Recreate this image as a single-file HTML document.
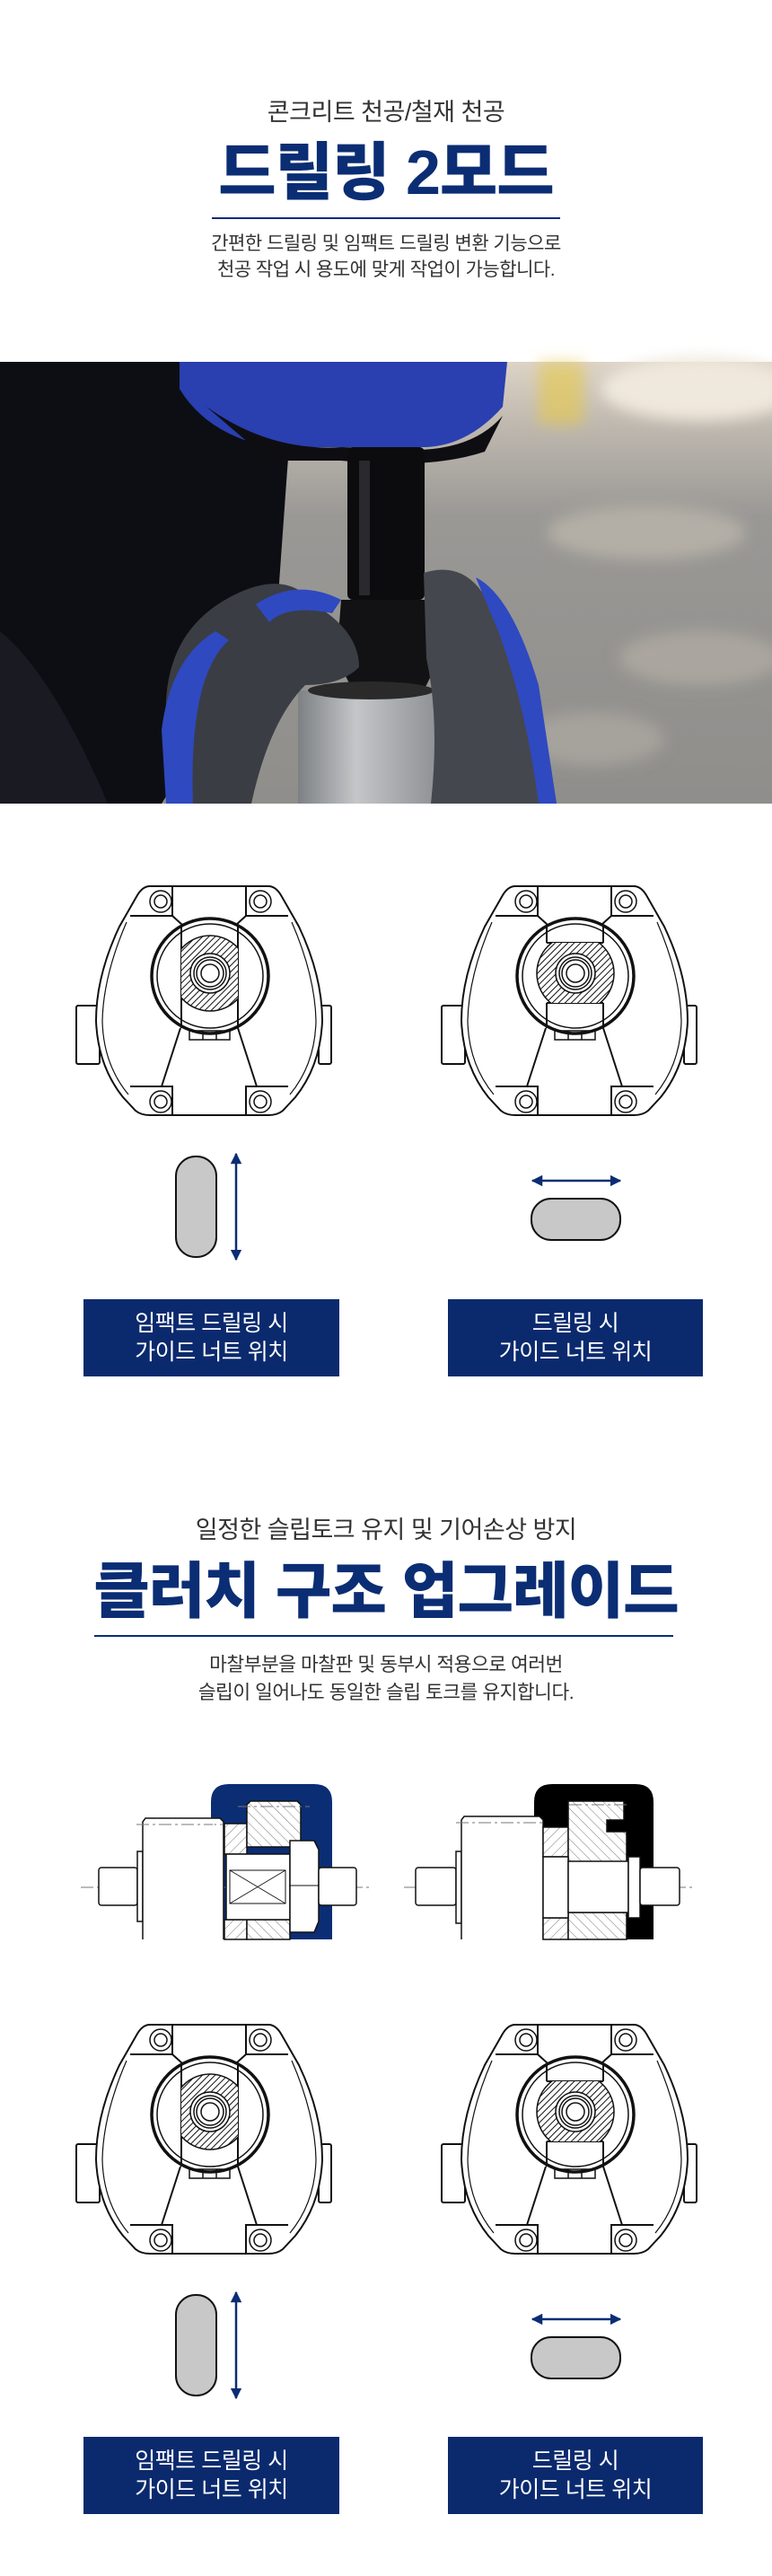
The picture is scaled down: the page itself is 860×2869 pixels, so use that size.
<!DOCTYPE html>
<html><head><meta charset="utf-8">
<style>
*{margin:0;padding:0;box-sizing:border-box}
body{width:860px;height:2869px;background:#fff;position:relative;overflow:hidden;font-family:"Liberation Sans","Noto Sans CJK KR",sans-serif}
.t{position:absolute;left:0;width:860px;text-align:center;white-space:nowrap}
.sub{font-size:27px;color:#333;letter-spacing:-0.5px}
.big{font-weight:900;color:#0b2d74;letter-spacing:-1px}
.desc{font-size:21px;color:#333;line-height:29px;letter-spacing:-0.5px}
.line{position:absolute;height:2px;background:#0b2d74}
.lbl{position:absolute;background:#0b2a6e;color:#fff;font-size:25px;line-height:32px;text-align:center;display:flex;align-items:center;justify-content:center;letter-spacing:-0.5px}
svg{position:absolute;overflow:visible}
</style></head><body>

<div class="t sub" style="top:103px">콘크리트 천공/철재 천공</div>
<div class="t big" style="top:152px;font-size:70px;line-height:80px">드릴링 2모드</div>
<div class="line" style="left:236px;width:388px;top:242px"></div>
<div class="t desc" style="top:257px">간편한 드릴링 및 임팩트 드릴링 변환 기능으로<br>천공 작업 시 용도에 맞게 작업이 가능합니다.</div>

<!-- photo -->
<svg style="left:0;top:403px" width="860" height="492" viewBox="0 0 860 492">
<defs>
<filter id="bl"><feGaussianBlur stdDeviation="8"/></filter>
<linearGradient id="bg" x1="0" y1="0" x2="0" y2="1"><stop offset="0" stop-color="#ddd3c6"/><stop offset="0.15" stop-color="#bdb7ae"/><stop offset="0.35" stop-color="#9a9895"/><stop offset="1" stop-color="#8f8e8b"/></linearGradient>
<linearGradient id="cyl" x1="0" y1="0" x2="1" y2="0"><stop offset="0" stop-color="#7d8184"/><stop offset="0.4" stop-color="#c4c6c8"/><stop offset="1" stop-color="#8a8d90"/></linearGradient>
</defs>
<rect width="860" height="492" fill="url(#bg)"/>
<g filter="url(#bl)">
<ellipse cx="720" cy="190" rx="110" ry="30" fill="#b4afa6"/>
<ellipse cx="780" cy="330" rx="90" ry="30" fill="#aaa69f"/>
<ellipse cx="660" cy="420" rx="80" ry="30" fill="#a6a29c"/>
<ellipse cx="780" cy="30" rx="110" ry="35" fill="#efe8dc"/>
<rect x="600" y="0" width="50" height="70" fill="#e6c94a" opacity="0.6"/>
</g>
<path d="M0 0 H330 L320 120 L310 260 L250 380 L180 492 H0 Z" fill="#0d0e14"/>
<path d="M0 300 Q60 350 120 492 H0 Z" fill="#1a1b22"/>
<path d="M200 0 H565 L560 50 Q520 95 470 95 L300 95 Q230 80 200 30 Z" fill="#2a3fb0"/>
<path d="M230 50 Q300 100 380 95 L470 98 Q530 95 560 60 L540 100 Q480 120 380 110 L300 110 Z" fill="#0e0e12"/>
<rect x="387" y="95" width="86" height="170" rx="6" fill="#0c0c0e"/>
<rect x="400" y="110" width="12" height="150" fill="#2a2a2e"/>
<path d="M380 265 H480 L490 330 L470 370 H395 L375 330 Z" fill="#121214"/>
<rect x="332" y="366" width="162" height="126" fill="url(#cyl)"/>
<ellipse cx="413" cy="366" rx="70" ry="10" fill="#2a2a2a"/>
<path d="M185 400 Q180 300 260 260 Q320 230 350 270 Q400 300 400 340 Q380 360 340 360 Q300 400 280 492 H190 Z" fill="#3b3d44"/>
<path d="M180 410 Q190 330 240 300 L255 310 Q210 350 215 492 H185 Z" fill="#2f49c0"/>
<path d="M285 270 Q330 240 380 265 L370 280 Q320 270 300 290 Z" fill="#2f49c0"/>
<path d="M472 235 Q520 220 545 270 Q580 350 610 430 L620 492 H480 Q490 400 475 330 Z" fill="#45474e"/>
<path d="M530 240 Q570 260 600 360 L620 492 H600 Q585 380 555 300 Z" fill="#2f49c0"/>
</svg>

<svg width="0" height="0" style="position:absolute">
<defs>
<pattern id="hatch" width="5" height="5" patternUnits="userSpaceOnUse" patternTransform="rotate(45)"><rect width="5" height="5" fill="#fff"/><line x1="0" y1="0" x2="0" y2="5" stroke="#111" stroke-width="2"/></pattern>
<pattern id="hatch2" width="8" height="8" patternUnits="userSpaceOnUse" patternTransform="rotate(45)"><rect width="8" height="8" fill="#fff"/><line x1="0" y1="0" x2="0" y2="8" stroke="#555" stroke-width="0.8"/></pattern>
<pattern id="hatch3" width="8" height="8" patternUnits="userSpaceOnUse" patternTransform="rotate(-45)"><rect width="8" height="8" fill="#fff"/><line x1="0" y1="0" x2="0" y2="8" stroke="#555" stroke-width="0.8"/></pattern>
<clipPath id="slotV"><rect x="119" y="40" width="63" height="120"/></clipPath>
<clipPath id="slotH"><rect x="90" y="63" width="122" height="67"/></clipPath>
<g id="body" fill="none" stroke="#111" stroke-width="2">
<rect x="2" y="133" width="26" height="65" rx="2" fill="#fff"/>
<rect x="272" y="133" width="14" height="65" rx="2" fill="#fff"/>
<path d="M84,0 L216,0 Q224,0 230,10 L250,45 Q276,100 276,150 Q274,200 246,235 L232,250 Q226,255 216,255 L84,255 Q74,255 68,250 L54,235 Q26,200 24,150 Q24,100 50,45 L70,10 Q76,0 84,0 Z" fill="#fff"/>
<path d="M58,40 Q32,100 31,150 Q32,198 60,232" stroke-width="1.2"/>
<path d="M242,40 Q268,100 269,150 Q268,198 240,232" stroke-width="1.2"/>
<path d="M62,33 H109 V0 M238,33 H191 V0 M62,223 H109 V255 M238,223 H191 V255"/>
<line x1="109" y1="33" x2="120" y2="43"/><line x1="191" y1="33" x2="180" y2="43"/>
<line x1="118" y1="158" x2="97" y2="223"/><line x1="182" y1="158" x2="203" y2="223"/>
<g stroke-width="1.5"><circle cx="96" cy="17" r="12"/><circle cx="96" cy="17" r="7"/><circle cx="207" cy="17" r="12"/><circle cx="207" cy="17" r="7"/><circle cx="96" cy="240" r="12"/><circle cx="96" cy="240" r="7"/><circle cx="207" cy="240" r="12"/><circle cx="207" cy="240" r="7"/></g>
<ellipse cx="151" cy="100" rx="65" ry="64" stroke-width="3.5"/>
<ellipse cx="151" cy="100" rx="59" ry="58" stroke-width="1.5"/>
<rect x="128" y="161" width="45" height="10" stroke-width="1.5"/>
<line x1="143" y1="161" x2="143" y2="171" stroke-width="1.5"/><line x1="158" y1="161" x2="158" y2="171" stroke-width="1.5"/>
</g>
<g id="core" fill="none" stroke="#111" stroke-width="1.5">
<circle cx="151" cy="97" r="22" fill="#fff"/><circle cx="151" cy="97" r="18"/><circle cx="151" cy="97" r="15"/><circle cx="151" cy="97" r="10"/>
</g>
<g id="devV">
<use href="#body"/>
<line x1="119" y1="44" x2="119" y2="158" stroke="#111" stroke-width="2"/><line x1="182" y1="44" x2="182" y2="158" stroke="#111" stroke-width="2"/>
<circle cx="151" cy="97" r="42" fill="url(#hatch)" stroke="#111" stroke-width="1.5" clip-path="url(#slotV)"/>
<use href="#core"/>
</g>
<g id="devH">
<use href="#body"/>
<line x1="119" y1="44" x2="119" y2="63" stroke="#111" stroke-width="2"/><line x1="182" y1="44" x2="182" y2="63" stroke="#111" stroke-width="2"/>
<line x1="119" y1="130" x2="119" y2="158" stroke="#111" stroke-width="2"/><line x1="182" y1="130" x2="182" y2="158" stroke="#111" stroke-width="2"/>
<line x1="119" y1="63" x2="182" y2="63" stroke="#111" stroke-width="2"/><line x1="119" y1="130" x2="182" y2="130" stroke="#111" stroke-width="2"/>
<circle cx="151" cy="97" r="43" fill="url(#hatch)" stroke="#111" stroke-width="1.5" clip-path="url(#slotH)"/>
<use href="#core"/>
</g>
<marker id="ah" viewBox="0 0 10 10" refX="9" refY="5" markerWidth="5" markerHeight="5" orient="auto-start-reverse"><path d="M0,0 L10,5 L0,10 Z" fill="#0b2d74"/></marker>
<g id="modes">
<use href="#devV" x="83" y="987"/>
<use href="#devH" x="490" y="987"/>
<rect x="196" y="1288" width="45" height="112" rx="22" fill="#c8c8c8" stroke="#111" stroke-width="2"/>
<line x1="263" y1="1285" x2="263" y2="1403" stroke="#0b2d74" stroke-width="2.5" marker-start="url(#ah)" marker-end="url(#ah)"/>
<rect x="592" y="1335" width="99" height="46" rx="22" fill="#c8c8c8" stroke="#111" stroke-width="2"/>
<line x1="593" y1="1315" x2="691" y2="1315" stroke="#0b2d74" stroke-width="2.5" marker-start="url(#ah)" marker-end="url(#ah)"/>
</g>
</defs>
</svg>

<svg style="left:0;top:0" width="860" height="2869" viewBox="0 0 860 2869">
<use href="#modes"/>
<use href="#modes" y="1268"/>

<!-- clutch left -->
<g stroke="#111" stroke-width="1.5">
<path d="M235,2160 V2007 Q235,1987 255,1987 H350 Q370,1987 370,2007 V2160 Z" fill="#0b2d74" stroke="none"/>
<line x1="90" y1="2102" x2="412" y2="2102" stroke="#777" stroke-width="1" stroke-dasharray="14 4 3 4"/>
<rect x="110" y="2080" width="43" height="42" rx="3" fill="#fff"/>
<rect x="153" y="2062" width="6" height="78" fill="#fff"/>
<path d="M159,2160 V2029 L162,2025 H245 L249,2029 V2160" fill="#fff"/>
<line x1="152" y1="2032" x2="249" y2="2032" stroke="#777" stroke-width="1" stroke-dasharray="14 4 3 4"/>
<line x1="238" y1="2030" x2="238" y2="2160" stroke="#fff" stroke-width="1.5"/>
<rect x="250" y="2031" width="25" height="34" fill="url(#hatch2)"/>
<rect x="250" y="2138" width="25" height="22" fill="url(#hatch2)"/>
<path d="M275,2057 V2010 L279,2006 H331 L335,2010 V2057 Z" fill="url(#hatch3)"/>
<rect x="275" y="2138" width="48" height="22" fill="url(#hatch3)"/>
<line x1="265" y1="2012" x2="345" y2="2012" stroke="#777" stroke-width="1" stroke-dasharray="14 4 3 4"/>
<rect x="252" y="2065" width="71" height="73" fill="#fff"/>
<rect x="256" y="2083" width="62" height="37" fill="#fff" stroke-width="1"/>
<path d="M256,2083 L318,2120 M318,2083 L256,2120" stroke-width="0.8"/>
<path d="M323,2050 L350,2050 L355,2060 V2140 L350,2152 H323 Z" fill="#fff"/>
<line x1="323" y1="2100" x2="355" y2="2100" stroke-width="1"/>
<rect x="355" y="2080" width="42" height="42" rx="3" fill="#fff"/>
</g>

<!-- clutch right -->
<g stroke="#111" stroke-width="1.5">
<path d="M595,2160 V2007 Q595,1987 615,1987 H708 Q728,1987 728,2007 V2160 Z" fill="#000" stroke="none"/>
<line x1="450" y1="2102" x2="775" y2="2102" stroke="#777" stroke-width="1" stroke-dasharray="14 4 3 4"/>
<rect x="463" y="2080" width="45" height="42" rx="3" fill="#fff"/>
<rect x="508" y="2062" width="6" height="80" fill="#fff"/>
<path d="M514,2160 V2027 L517,2023 H601 L605,2027 V2160" fill="#fff"/>
<line x1="508" y1="2030" x2="608" y2="2030" stroke="#777" stroke-width="1" stroke-dasharray="14 4 3 4"/>
<rect x="605" y="2035" width="28" height="33" fill="url(#hatch2)"/>
<rect x="605" y="2136" width="28" height="24" fill="url(#hatch2)"/>
<path d="M633,2075 V2006 H695 V2027 H676 V2040 H698 V2075 Z" fill="url(#hatch3)"/>
<rect x="633" y="2130" width="65" height="30" fill="url(#hatch3)"/>
<line x1="634" y1="2010" x2="698" y2="2010" stroke="#777" stroke-width="1" stroke-dasharray="14 4 3 4"/>
<rect x="605" y="2068" width="28" height="68" fill="#fff"/>
<rect x="633" y="2073" width="67" height="57" fill="#fff"/>
<rect x="700" y="2068" width="13" height="68" fill="#fff"/>
<rect x="713" y="2080" width="44" height="42" rx="3" fill="#fff"/>
</g>
</svg>

<div class="lbl" style="left:93px;top:1447px;width:285px;height:86px">임팩트 드릴링 시<br>가이드 너트 위치</div>
<div class="lbl" style="left:499px;top:1447px;width:284px;height:86px">드릴링 시<br>가이드 너트 위치</div>

<div class="t sub" style="top:1682px">일정한 슬립토크 유지 및 기어손상 방지</div>
<div class="t big" style="top:1733px;font-size:68px;line-height:80px">클러치 구조 업그레이드</div>
<div class="line" style="left:105px;width:645px;top:1821px"></div>
<div class="t desc" style="top:1839px;line-height:31px;font-size:21.5px">마찰부분을 마찰판 및 동부시 적용으로 여러번<br>슬립이 일어나도 동일한 슬립 토크를 유지합니다.</div>

<div class="lbl" style="left:93px;top:2714px;width:285px;height:86px">임팩트 드릴링 시<br>가이드 너트 위치</div>
<div class="lbl" style="left:499px;top:2714px;width:284px;height:86px">드릴링 시<br>가이드 너트 위치</div>
</body></html>
